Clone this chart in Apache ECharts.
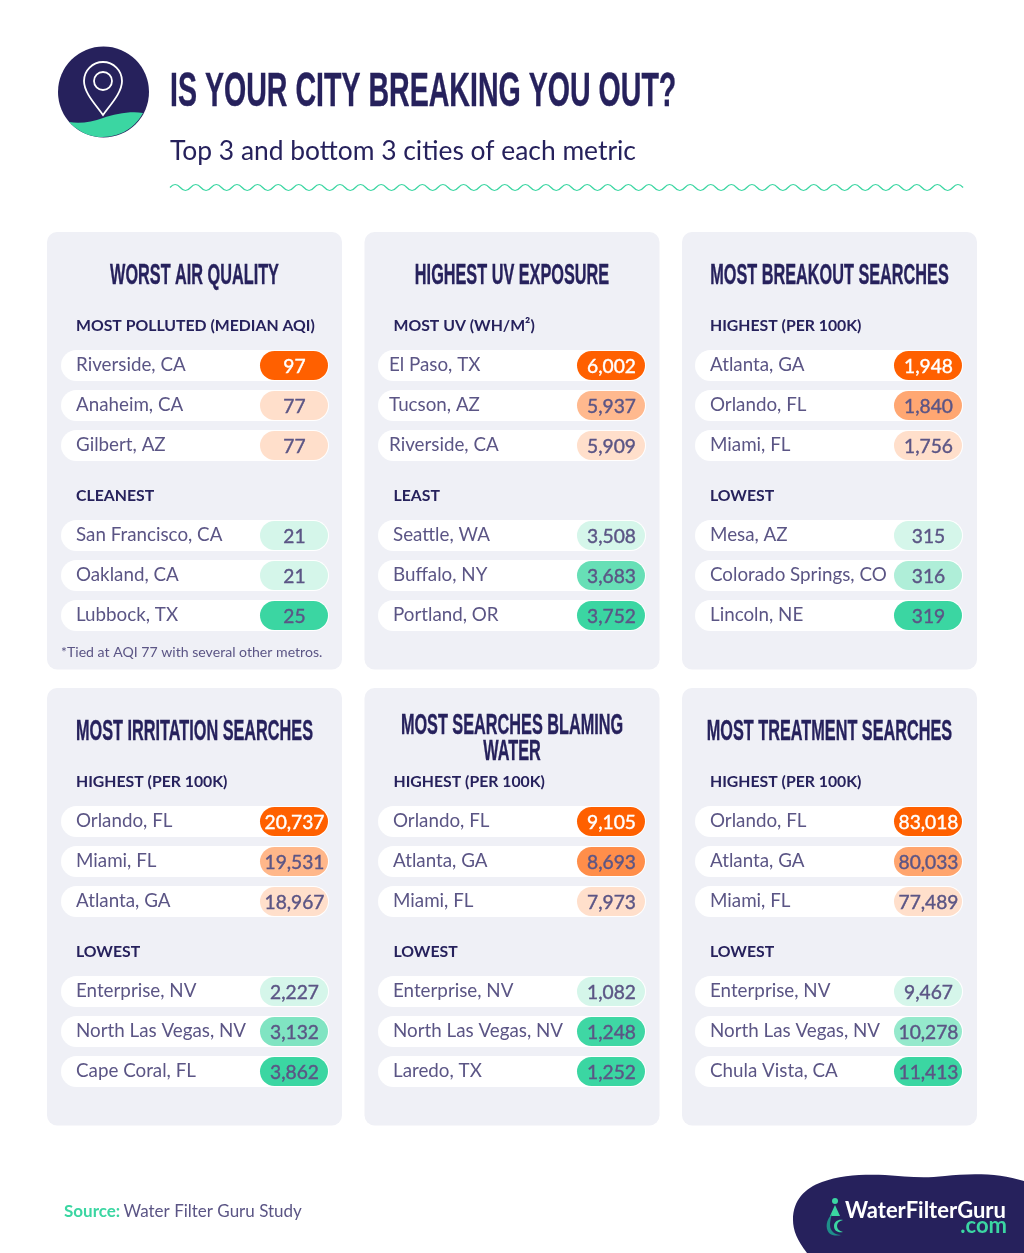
<!DOCTYPE html>
<html>
<head>
<meta charset="utf-8">
<title>Is your city breaking you out?</title>
<script src="https://cdn.jsdelivr.net/npm/echarts@6/dist/echarts.min.js"></script>
<style>
html, body { margin: 0; padding: 0; background: #fff; }
#chart { width: 1024px; height: 1253px; }
</style>
</head>
<body>
<div id="chart"></div>
<script>
var panelTitles = ['WORST AIR QUALITY', 'HIGHEST UV EXPOSURE', 'MOST BREAKOUT SEARCHES',
  'MOST IRRITATION SEARCHES', 'MOST SEARCHES BLAMING\nWATER', 'MOST TREATMENT SEARCHES'];
var topHeads = ['MOST POLLUTED (MEDIAN AQI)', 'MOST UV (WH/M²)', 'HIGHEST (PER 100K)',
  'HIGHEST (PER 100K)', 'HIGHEST (PER 100K)', 'HIGHEST (PER 100K)'];
var bottomHeads = ['CLEANEST', 'LEAST', 'LOWEST', 'LOWEST', 'LOWEST', 'LOWEST'];

var airTopCities = ['Riverside, CA', 'Anaheim, CA', 'Gilbert, AZ'];
var airTopValues = [97, 77, 77];
var airLowCities = ['San Francisco, CA', 'Oakland, CA', 'Lubbock, TX'];
var airLowValues = [21, 21, 25];

var uvTopCities = ['El Paso, TX', 'Tucson, AZ', 'Riverside, CA'];
var uvTopValues = [6002, 5937, 5909];
var uvLowCities = ['Seattle, WA', 'Buffalo, NY', 'Portland, OR'];
var uvLowValues = [3508, 3683, 3752];

var breakoutTopCities = ['Atlanta, GA', 'Orlando, FL', 'Miami, FL'];
var breakoutTopValues = [1948, 1840, 1756];
var breakoutLowCities = ['Mesa, AZ', 'Colorado Springs, CO', 'Lincoln, NE'];
var breakoutLowValues = [315, 316, 319];

var irritationTopCities = ['Orlando, FL', 'Miami, FL', 'Atlanta, GA'];
var irritationTopValues = [20737, 19531, 18967];
var irritationLowCities = ['Enterprise, NV', 'North Las Vegas, NV', 'Cape Coral, FL'];
var irritationLowValues = [2227, 3132, 3862];

var waterTopCities = ['Orlando, FL', 'Atlanta, GA', 'Miami, FL'];
var waterTopValues = [9105, 8693, 7973];
var waterLowCities = ['Enterprise, NV', 'North Las Vegas, NV', 'Laredo, TX'];
var waterLowValues = [1082, 1248, 1252];

var treatmentTopCities = ['Orlando, FL', 'Atlanta, GA', 'Miami, FL'];
var treatmentTopValues = [83018, 80033, 77489];
var treatmentLowCities = ['Enterprise, NV', 'North Las Vegas, NV', 'Chula Vista, CA'];
var treatmentLowValues = [9467, 10278, 11413];

var groups = [
  [airTopCities, airTopValues, airLowCities, airLowValues],
  [uvTopCities, uvTopValues, uvLowCities, uvLowValues],
  [breakoutTopCities, breakoutTopValues, breakoutLowCities, breakoutLowValues],
  [irritationTopCities, irritationTopValues, irritationLowCities, irritationLowValues],
  [waterTopCities, waterTopValues, waterLowCities, waterLowValues],
  [treatmentTopCities, treatmentTopValues, treatmentLowCities, treatmentLowValues]
];

var NAVY = '#26215c';
var INK = '#5b5585';
var GREEN = '#3bd6a2';
var ORANGE = '#ff6000';
var PALE_ORANGE = '#ffdfcb';
var PALE_GREEN = '#d5f6ea';
var TITLE_FONT = '"Liberation Sans"';
var BODY_FONT = 'Lato';

var panelX = [47, 364.5, 682];
var panelY = [232, 688];
var rowLeft = [61, 378, 695];
var panelW = 295;
var panelH = 437.5;

var myChart = echarts.init(document.getElementById('chart'), null, { renderer: 'canvas' });

function bebas(text, x, y, size, scale, align) {
  return {
    type: 'text', x: x, y: y, scaleX: scale,
    style: {
      text: text, fill: NAVY, font: 'bold ' + size + 'px ' + TITLE_FONT,
      stroke: NAVY, lineWidth: 0.4,
      align: align, textAlign: align, verticalAlign: 'middle', textVerticalAlign: 'middle',
      lineHeight: size * 0.85
    }
  };
}

function plain(text, x, y, font, fill) {
  return {
    type: 'text', x: x, y: y,
    style: {
      text: text, fill: fill, font: font,
      align: 'left', textAlign: 'left', verticalAlign: 'middle', textVerticalAlign: 'middle'
    }
  };
}

// the graphic component has no plain path type, so each outline gets registered as a shape
var shapeCount = 0;
function outline(d, style) {
  var name = 'outline' + (shapeCount++);
  echarts.graphic.registerShape(name, echarts.graphic.extendPath(d));
  return { type: name, shape: {}, style: style };
}

function wavePath(x0, x1, y, period, amp) {
  var d = 'M' + x0 + ' ' + y;
  var up = true;
  for (var x = x0; x < x1 - 1; x += period / 2) {
    d += ' Q' + (x + period / 4) + ' ' + (up ? y - amp * 2 : y + amp * 2) + ' ' + (x + period / 2) + ' ' + y;
    up = !up;
  }
  return d;
}

var graphics = [];

// header
graphics.push({ type: 'circle', shape: { cx: 103.5, cy: 92, r: 45.5 }, style: { fill: NAVY } });
graphics.push(outline('M69 122 C80 124 92 122 103 118 C115 114 130 111 143 113 A45.5 45.5 0 0 1 69 122 Z', { fill: GREEN }));
graphics.push(outline('M103 115 C96 105 84 93 84 81 A19 19 0 0 1 122 81 C122 93 110 105 103 115 Z', { fill: null, stroke: '#fff', lineWidth: 1.8 }));
graphics.push({ type: 'circle', shape: { cx: 103, cy: 81, r: 9 }, style: { fill: null, stroke: '#fff', lineWidth: 1.8 } });
graphics.push(bebas('IS YOUR CITY BREAKING YOU OUT?', 170, 92, 49, 0.583, 'left'));
graphics.push(plain('Top 3 and bottom 3 cities of each metric', 170, 151, '26.4px ' + BODY_FONT, NAVY));
graphics.push(outline(wavePath(170, 964, 187.5, 20.6, 3), { fill: null, stroke: GREEN, lineWidth: 1.2 }));

// footer
graphics.push({
  type: 'text', x: 64, y: 1212,
  style: {
    text: '{a|Source:} {b|Water Filter Guru Study}', align: 'left', textAlign: 'left',
    verticalAlign: 'middle', textVerticalAlign: 'middle',
    rich: {
      a: { font: 'bold 17px ' + BODY_FONT, fill: GREEN, color: GREEN },
      b: { font: '17px ' + BODY_FONT, fill: INK, color: INK }
    }
  }
});
graphics.push(outline('M807 1253 C797 1240 793 1230 793 1220 C793 1200 805 1188 822 1182 C840 1175 865 1174 885 1175 C905 1176 920 1179 945 1176 C970 1173 1000 1173 1024 1181 L1024 1253 Z', { fill: NAVY }));
graphics.push(plain('WaterFilterGuru', 845, 1211, 'bold 22px ' + BODY_FONT, '#fff'));
graphics.push({
  type: 'text', x: 1007, y: 1226,
  style: { text: '.com', fill: GREEN, font: 'bold 22px ' + BODY_FONT, align: 'right', textAlign: 'right', verticalAlign: 'middle', textVerticalAlign: 'middle' }
});
graphics.push({ type: 'circle', shape: { cx: 835, cy: 1201, r: 3 }, style: { fill: GREEN } });
graphics.push(outline('M835 1205 L840 1216 L830 1216 Z', { fill: GREEN }));
graphics.push(outline('M832 1214 C826 1220 825 1228 829 1233 C832 1236 838 1236 841 1235 C835 1235 830 1231 830 1225 C830 1221 831 1217 832 1214 Z', { fill: '#1e8f8a' }));
graphics.push(outline('M843 1220 C838 1219 834 1222 834 1226 C834 1231 838 1233 843 1232 C839 1231 837 1229 837 1226 C837 1223 839 1221 843 1220 Z', { fill: GREEN }));

var grids = [];
var xAxes = [];
var yAxes = [];
var series = [];

function renderRow(values, pale, full) {
  var low = Math.min.apply(null, values);
  var high = Math.max.apply(null, values);
  return function (params, api) {
    var value = api.value(2);
    var start = api.coord([0, api.value(1)]);
    var end = api.coord([1, api.value(1)]);
    var rowH = api.size([0, 1])[1] * 0.775;
    var pillW = 68;
    var pillX = end[0] - pillW - 1;
    var t = (value - low) / (high - low);
    var textFill = t === 1 && full === ORANGE ? '#fff' : INK;
    return {
      type: 'group',
      children: [
        {
          type: 'rect',
          shape: { x: start[0], y: start[1] - rowH / 2, width: end[0] - start[0], height: rowH, r: rowH / 2 },
          style: { fill: '#fff' }
        },
        {
          type: 'rect',
          shape: { x: pillX, y: start[1] - rowH / 2 + 1, width: pillW, height: rowH - 2, r: rowH / 2 - 1 },
          style: { fill: echarts.color.lerp(t, [pale, full]) }
        },
        {
          type: 'text', x: pillX + pillW / 2 + 0.5, y: start[1] + 1,
          style: {
            text: value.toLocaleString('en-US'),
            fill: textFill, stroke: textFill, lineWidth: 0.4,
            font: '19.2px ' + BODY_FONT,
            align: 'center', textAlign: 'center', verticalAlign: 'middle', textVerticalAlign: 'middle'
          }
        }
      ]
    };
  };
}

function addGroup(top, left, cities, values, pale, full, labelMargin) {
  var i = grids.length;
  grids.push({ left: left, top: top, width: 268, height: 120 });
  xAxes.push({ gridIndex: i, type: 'value', min: 0, max: 1, show: false });
  yAxes.push({
    gridIndex: i, type: 'category', inverse: true, data: cities, z: 5,
    axisLine: { show: false }, axisTick: { show: false }, splitLine: { show: false },
    axisLabel: {
      inside: true, interval: 0, margin: labelMargin, color: INK,
      fontFamily: BODY_FONT, fontSize: 18.8, verticalAlign: 'bottom', lineHeight: 1
    }
  });
  series.push({
    type: 'custom', xAxisIndex: i, yAxisIndex: i, silent: true,
    encode: { x: 0, y: 1 },
    data: cities.map(function (c, k) { return [0, c, values[k]]; }),
    renderItem: renderRow(values, pale, full)
  });
}

groups.forEach(function (g, p) {
  var col = p % 3;
  var row = Math.floor(p / 3);
  var x = panelX[col];
  var y = panelY[row];
  var dy = row === 0 ? 0 : 456;
  var left = rowLeft[col];
  var textX = col === 2 ? x + 28 : x + 29;

  graphics.push({ type: 'rect', shape: { x: x, y: y, width: panelW, height: panelH, r: 10 }, style: { fill: '#eff0f6' } });
  graphics.push(bebas(panelTitles[p], x + panelW / 2, p === 4 ? y + 50.5 : y + 44, 30, 0.542, 'center'));
  graphics.push(plain(topHeads[p], textX, 326 + dy, 'bold 15.8px ' + BODY_FONT, NAVY));
  graphics.push(plain(bottomHeads[p], textX, 496 + dy, 'bold 15.8px ' + BODY_FONT, NAVY));

  addGroup(345.5 + dy, left, g[0], g[1], PALE_ORANGE, ORANGE, p === 1 ? 11 : 15);
  addGroup(515.5 + dy, left, g[2], g[3], PALE_GREEN, GREEN, 15);
});

graphics.push(plain('*Tied at AQI 77 with several other metros.', 61, 652.5, '14.1px ' + BODY_FONT, INK));

var option = {
  animation: false,
  graphic: { elements: graphics },
  grid: grids,
  xAxis: xAxes,
  yAxis: yAxes,
  series: series
};

myChart.setOption(option);
window.addEventListener('resize', myChart.resize);
</script>
</body>
</html>
